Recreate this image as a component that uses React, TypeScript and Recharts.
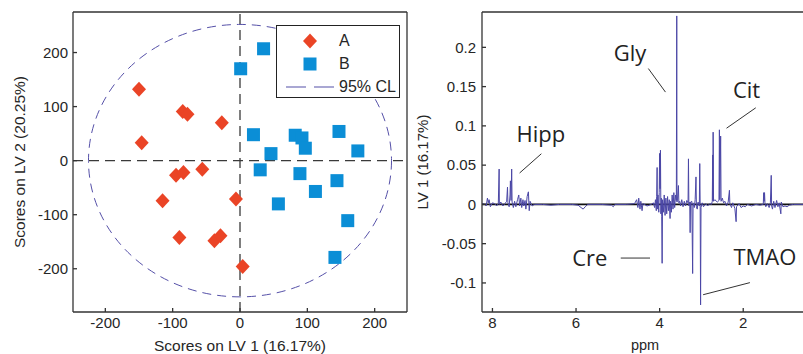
import React from "react";
import {
  ScatterChart,
  Scatter,
  LineChart,
  Line,
  XAxis,
  YAxis,
  ReferenceLine,
  ReferenceArea,
  ReferenceDot,
  Legend,
} from "recharts";

// --- scores (LV1, LV2) ---
const groupA = [
  { x: -150, y: 132 },
  { x: -146, y: 33 },
  { x: -85, y: 91 },
  { x: -78, y: 86 },
  { x: -27, y: 70 },
  { x: -95, y: -27 },
  { x: -84, y: -22 },
  { x: -56, y: -16 },
  { x: -115, y: -74 },
  { x: -6, y: -71 },
  { x: -90, y: -142 },
  { x: -38, y: -148 },
  { x: -29, y: -139 },
  { x: 4, y: -196 },
];

const groupB = [
  { x: 35, y: 207 },
  { x: 1, y: 170 },
  { x: 20, y: 48 },
  { x: 82, y: 47 },
  { x: 92, y: 42 },
  { x: 97, y: 23 },
  { x: 46, y: 13 },
  { x: 147, y: 54 },
  { x: 175, y: 18 },
  { x: 30, y: -17 },
  { x: 89, y: -24 },
  { x: 144, y: -37 },
  { x: 112, y: -57 },
  { x: 57, y: -80 },
  { x: 160, y: -111 },
  { x: 141, y: -179 },
];

const scoreTicks = [-200, -100, 0, 100, 200];
const ellipseRadius = { x: 225, y: 252 }; // 95% CL

// --- LV1 loadings spectrum ---
const specPpm = [
  8.25, 8.2, 8.15, 8.12, 8.1, 8.08, 8.05, 8.0, 7.95, 7.9, 7.86, 7.84, 7.835, 7.8, 7.75, 7.7,
  7.66, 7.64, 7.63, 7.6, 7.58, 7.57, 7.555, 7.54, 7.53, 7.5, 7.47, 7.44, 7.4, 7.37, 7.35, 7.32,
  7.3, 7.27, 7.25, 7.22, 7.2, 7.17, 7.14, 7.12, 7.1, 7.05, 7.0, 6.8, 6.6, 6.4, 6.1, 5.95,
  5.88, 5.83, 5.78, 5.72, 5.4, 5.15, 5.11, 5.07, 4.8, 4.6, 4.55, 4.52, 4.5, 4.47, 4.45, 4.42,
  4.4, 4.3, 4.2, 4.15, 4.12, 4.1, 4.08, 4.07, 4.06, 4.055, 4.04, 4.02, 4.01, 4.0, 3.99, 3.98,
  3.97, 3.96, 3.95, 3.94, 3.93, 3.91, 3.89, 3.87, 3.85, 3.83, 3.81, 3.79, 3.77, 3.75, 3.74, 3.72,
  3.7, 3.68, 3.66, 3.64, 3.62, 3.6, 3.59, 3.585, 3.57, 3.55, 3.54, 3.52, 3.5, 3.47, 3.44, 3.41,
  3.38, 3.35, 3.32, 3.31, 3.3, 3.28, 3.27, 3.26, 3.23, 3.21, 3.2, 3.17, 3.15, 3.13, 3.12, 3.1,
  3.08, 3.05, 3.04, 3.03, 3.02, 3.01, 2.98, 2.95, 2.9, 2.85, 2.8, 2.76, 2.74, 2.73, 2.725, 2.72,
  2.71, 2.68, 2.62, 2.58, 2.57, 2.56, 2.54, 2.53, 2.5, 2.47, 2.44, 2.4, 2.36, 2.33, 2.32, 2.28,
  2.25, 2.2, 2.17, 2.16, 2.1, 2.05, 2.0, 1.95, 1.9, 1.8, 1.7, 1.6, 1.52, 1.51, 1.5, 1.49,
  1.48, 1.46, 1.42, 1.38, 1.35, 1.33, 1.32, 1.3, 1.27, 1.24, 1.2, 1.17, 1.14, 1.1, 1.09, 1.05,
  1.0, 0.95, 0.9, 0.8, 0.45,
];

const specLv1 = [
  0, 0.001, -0.002, 0.008, 0.002, 0.006, -0.003, 0.002, 0.001, -0.002, 0.001, 0.045, 0, 0.003, -0.002, 0.001,
  0.004, 0.022, 0.002, -0.003, 0.012, 0.03, 0.005, 0.045, 0.003, -0.004, 0.004, -0.003, 0.006, 0.012, -0.002, 0.008,
  -0.004, 0.006, -0.002, 0.005, -0.006, 0.01, 0.016, -0.008, 0.004, -0.002, 0, 0, -0.001, 0, 0, -0.001,
  -0.004, -0.006, -0.003, 0, 0, -0.001, -0.003, 0, 0, 0.001, 0.006, -0.004, 0.008, -0.006, 0.004, -0.008,
  0.001, -0.002, 0, 0.002, -0.004, 0.006, -0.008, 0.01, 0.047, -0.006, 0.012, -0.01, 0.015, 0.065, 0.02, 0.069,
  -0.012, 0.008, -0.015, -0.075, 0.006, -0.01, 0.012, -0.014, 0.008, -0.012, 0.01, -0.008, 0.006, -0.018, 0.004, -0.01,
  0.012, -0.006, 0.015, -0.004, 0.012, 0.005, 0.24, 0.003, 0.008, 0.024, 0.002, 0.004, -0.002, 0.006, -0.003, 0.004,
  -0.002, 0.005, 0.002, 0.058, -0.002, 0.003, -0.036, 0.003, 0.004, -0.088, 0.002, -0.004, 0.006, 0.035, -0.003, -0.006,
  0.003, -0.002, 0.052, 0, -0.128, -0.004, 0.002, -0.003, 0.001, -0.002, 0.001, 0, 0.004, 0.063, 0.005, 0.092,
  0.004, 0.006, 0.003, 0.005, 0.095, 0.006, 0.087, 0.004, 0.008, 0.002, 0.004, -0.002, 0.003, 0.018, 0.001, -0.004,
  0.002, -0.005, -0.022, -0.003, 0.001, -0.004, -0.002, -0.003, 0, -0.002, 0, -0.001, 0, 0.015, 0.004, 0.015,
  0.002, -0.003, 0.001, -0.004, 0.002, 0.037, -0.002, -0.006, 0.004, -0.004, 0.005, -0.003, 0.002, -0.012, 0.003, -0.003,
  -0.002, -0.003, -0.001, 0, 0,
];

const ppmTicks = [8, 6, 4, 2];
const lv1Ticks = [0.2, 0.15, 0.1, 0.05, 0, -0.05, -0.1];

const annotations = [
  { label: "Hipp", x: 6.84, y: 0.09, line: [{ x: 7.35, y: 0.04 }, { x: 6.83, y: 0.0645 }] },
  { label: "Gly", x: 4.71, y: 0.193, line: [{ x: 4.27, y: 0.173 }, { x: 3.86, y: 0.143 }] },
  { label: "Cit", x: 1.92, y: 0.145, line: [{ x: 2.4, y: 0.097 }, { x: 1.7, y: 0.123 }] },
  { label: "Cre", x: 5.67, y: -0.0687, line: [{ x: 4.93, y: -0.0683 }, { x: 4.23, y: -0.0683 }] },
  { label: "TMAO", x: 1.48, y: -0.0674, line: [{ x: 2.96, y: -0.115 }, { x: 1.84, y: -0.0996 }] },
];

const RED = "#ea4426";
const BLUE = "#0b8ed6";
const CL_COLOR = "#5550a8";
const AXIS = "#333";
const TEXT = "#262626";
const FONT = "'Liberation Sans', Arial, sans-serif";

const spectrum = specPpm.map((p, i) => ({ ppm: p, lv1: specLv1[i] }));

const Diamond = ({ cx, cy }: any) => (
  <polygon
    points={`${cx},${cy - 7.5} ${cx + 7},${cy} ${cx},${cy + 7.5} ${cx - 7},${cy}`}
    fill={RED}
  />
);

const Square = ({ cx, cy }: any) => (
  <rect x={cx - 6.5} y={cy - 6.5} width={13} height={13} fill={BLUE} />
);

const Nothing = () => <g />;

const ClEllipse = ({ x, y, width, height }: any) => (
  <ellipse
    cx={x + width / 2}
    cy={y + height / 2}
    rx={width / 2}
    ry={height / 2}
    fill="none"
    stroke={CL_COLOR}
    strokeWidth={1}
    strokeDasharray="9 6"
  />
);

const ScoreLegend = () => (
  <div
    style={{
      border: "1.3px solid #222",
      background: "#fff",
      width: 124,
      height: 73,
      fontFamily: FONT,
      fontSize: 16,
      color: TEXT,
      boxSizing: "border-box",
    }}
  >
    {[
      { name: "A", kind: "diamond" },
      { name: "B", kind: "square" },
      { name: "95% CL", kind: "line" },
    ].map((item, i) => (
      <div key={item.name} style={{ display: "flex", alignItems: "center", height: 23, marginTop: i === 0 ? 3 : 0 }}>
        <svg width={62} height={20}>
          {item.kind === "diamond" && <Diamond cx={33} cy={10} />}
          {item.kind === "square" && <Square cx={33} cy={10} />}
          {item.kind === "line" && (
            <line x1={9} y1={10} x2={58} y2={10} stroke={CL_COLOR} strokeWidth={1.2} strokeDasharray="20 8" />
          )}
        </svg>
        <span style={{ lineHeight: "20px" }}>{item.name}</span>
      </div>
    ))}
  </div>
);

const tickStyle = { fill: TEXT, fontSize: 15, fontFamily: FONT };

const App = () => {
  return (
    <div
      style={{
        position: "absolute",
        left: 0,
        top: 0,
        width: 803,
        height: 354,
        overflow: "hidden",
        background: "#fff",
      }}
    >
      <div style={{ position: "absolute", left: 0, top: 0 }}>
        <ScatterChart width={420} height={354} margin={{ top: 11, right: 12, bottom: 0, left: 0 }}>
          <XAxis
            type="number"
            dataKey="x"
            domain={[-248, 248]}
            ticks={scoreTicks}
            allowDataOverflow
            height={42}
            stroke={AXIS}
            strokeWidth={1.3}
            tickSize={-4}
            tickMargin={9}
            tick={tickStyle}
            label={{ value: "Scores on LV 1 (16.17%)", position: "center", dy: 12, fill: TEXT, fontSize: 15.5, fontFamily: FONT }}
          />
          <YAxis
            type="number"
            dataKey="y"
            domain={[-280, 275]}
            ticks={scoreTicks}
            allowDataOverflow
            width={73}
            stroke={AXIS}
            strokeWidth={1.3}
            tickSize={-4}
            tickMargin={9}
            tick={tickStyle}
            label={{ value: "Scores on LV 2 (20.25%)", angle: -90, position: "center", dx: -17.5, fill: TEXT, fontSize: 15.5, fontFamily: FONT }}
          />
          <XAxis
            xAxisId="top"
            orientation="top"
            type="number"
            dataKey="x"
            domain={[-248, 248]}
            ticks={scoreTicks}
            allowDataOverflow
            height={1}
            stroke={AXIS}
            strokeWidth={1.3}
            tickSize={-4}
            tick={false}
          />
          <YAxis
            yAxisId="right"
            orientation="right"
            type="number"
            dataKey="y"
            domain={[-280, 275]}
            ticks={scoreTicks}
            allowDataOverflow
            width={1}
            stroke={AXIS}
            strokeWidth={1.3}
            tickSize={-4}
            tick={false}
          />
          <ReferenceArea
            x1={-ellipseRadius.x}
            x2={ellipseRadius.x}
            y1={-ellipseRadius.y}
            y2={ellipseRadius.y}
            shape={ClEllipse}
          />
          <ReferenceLine x={0} stroke="#3a3a3a" strokeWidth={1.3} strokeDasharray="10 6" />
          <ReferenceLine y={0} stroke="#3a3a3a" strokeWidth={1.3} strokeDasharray="10 6" />
          {/* invisible series so the mirrored box axes get drawn */}
          <Scatter
            name="box"
            data={groupA}
            xAxisId="top"
            yAxisId="right"
            shape={Nothing}
            legendType="none"
            isAnimationActive={false}
          />
          <Scatter name="A" data={groupA} shape={Diamond} isAnimationActive={false} />
          <Scatter name="B" data={groupB} shape={Square} isAnimationActive={false} />
          <Legend
            layout="vertical"
            align="center"
            verticalAlign="middle"
            content={() => <ScoreLegend />}
            wrapperStyle={{ left: 276, top: 25, width: 124, height: 73 }}
          />
        </ScatterChart>
      </div>

      <div style={{ position: "absolute", left: 410, top: 0 }}>
        <LineChart width={400} height={354} data={spectrum} margin={{ top: 11, right: 2, bottom: 0, left: 0 }}>
          <XAxis
            type="number"
            dataKey="ppm"
            domain={[0.45, 8.25]}
            reversed
            ticks={ppmTicks}
            allowDataOverflow
            height={42}
            stroke={AXIS}
            strokeWidth={1.3}
            tickSize={-4}
            tickMargin={9}
            tick={tickStyle}
            label={{ value: "ppm", position: "center", dy: 12, fill: TEXT, fontSize: 14.5, fontFamily: FONT }}
          />
          <YAxis
            type="number"
            domain={[-0.137, 0.245]}
            ticks={lv1Ticks}
            allowDataOverflow
            width={72}
            stroke={AXIS}
            strokeWidth={1.3}
            tickSize={-4}
            tickMargin={10}
            tick={tickStyle}
            label={{ value: "LV 1 (16.17%)", angle: -90, position: "center", dx: -23, fill: TEXT, fontSize: 15, fontFamily: FONT }}
          />
          <XAxis
            xAxisId="top"
            orientation="top"
            type="number"
            dataKey="ppm"
            domain={[0.45, 8.25]}
            reversed
            ticks={ppmTicks}
            allowDataOverflow
            height={1}
            stroke={AXIS}
            strokeWidth={1.3}
            tickSize={-4}
            tick={false}
          />
          <ReferenceLine y={0} stroke="#111" strokeWidth={1.6} />
          {/* invisible line so the top box axis gets drawn */}
          <Line
            xAxisId="top"
            type="linear"
            dataKey="lv1"
            stroke="none"
            dot={false}
            legendType="none"
            isAnimationActive={false}
          />
          <Line
            type="linear"
            dataKey="lv1"
            stroke="#4b47a6"
            strokeWidth={1}
            dot={false}
            isAnimationActive={false}
          />
          {annotations.map((a) => (
            <ReferenceLine key={a.label + "-line"} segment={a.line} stroke="#333" strokeWidth={1} />
          ))}
          {annotations.map((a) => (
            <ReferenceDot
              key={a.label}
              x={a.x}
              y={a.y}
              r={0}
              fill="none"
              stroke="none"
              label={{ value: a.label, position: "center", fill: "#222", fontSize: 22, fontFamily: "'Open Sans', sans-serif" }}
            />
          ))}
        </LineChart>
      </div>
    </div>
  );
};

export default App;
